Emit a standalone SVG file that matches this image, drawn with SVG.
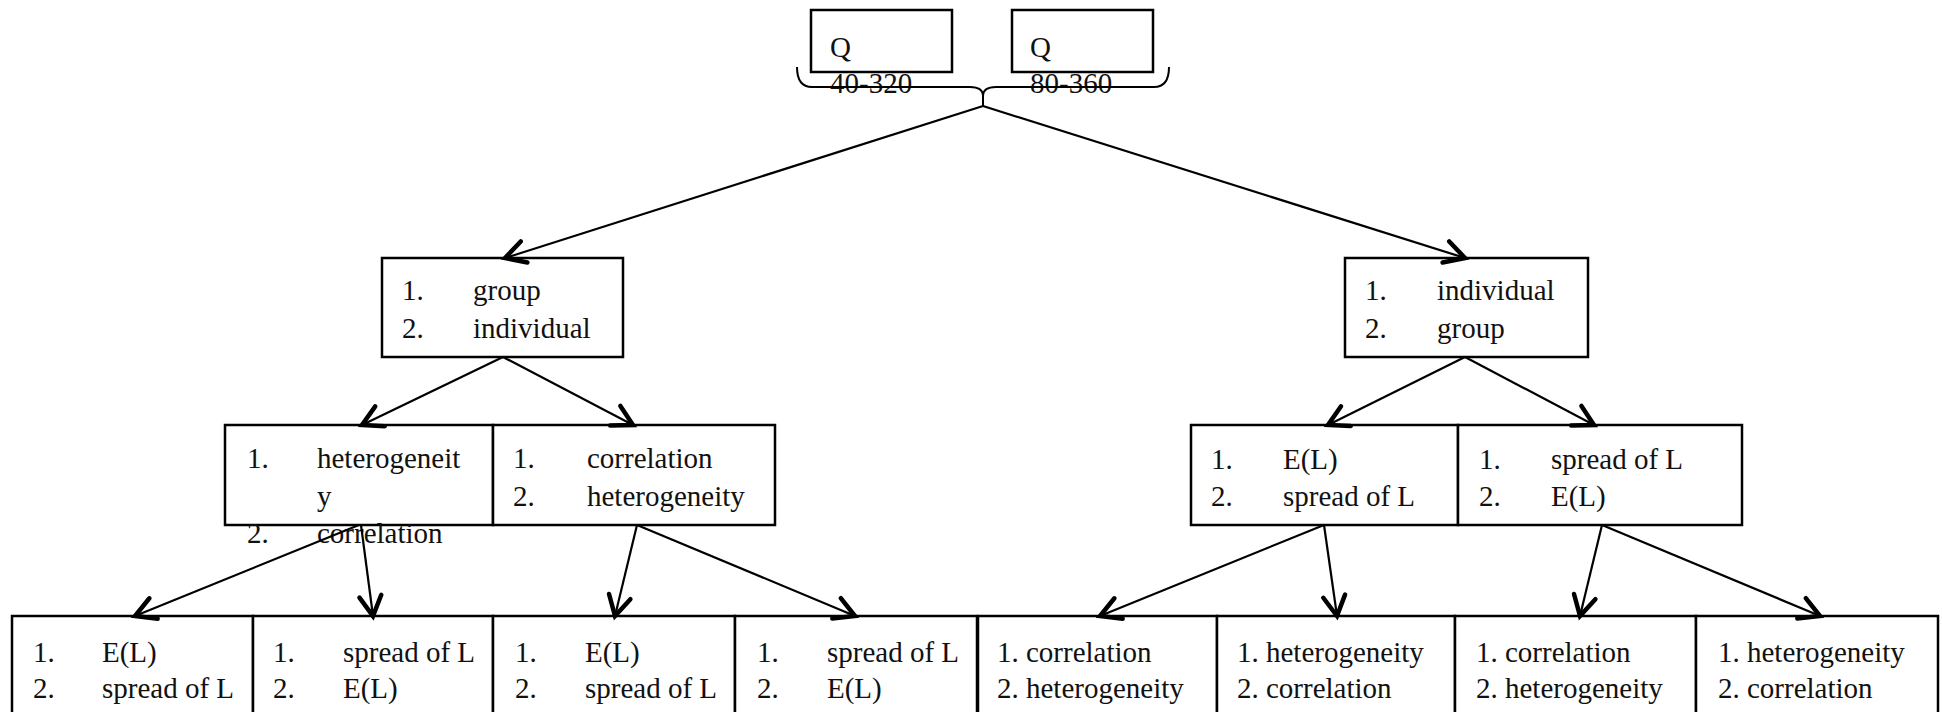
<svg xmlns="http://www.w3.org/2000/svg" width="1942" height="712" viewBox="0 0 1942 712">
<style>
.box{fill:#fff;stroke:#000;stroke-width:2.5}
.t{font-family:"Liberation Serif","Times New Roman",serif;font-size:29px;fill:#111}
.c{stroke:#000;stroke-width:2.2;fill:none}
.br{stroke:#000;stroke-width:2;fill:none}
</style>
<defs>
<marker id="ah" markerUnits="userSpaceOnUse" markerWidth="40" markerHeight="40" viewBox="-30 -20 40 40" refX="0" refY="0" orient="auto">
<path d="M-20,-11 L0,0 L-20,11" fill="none" stroke="#000" stroke-width="4.5" stroke-linecap="round" stroke-linejoin="miter"/>
</marker>
</defs>
<rect width="1942" height="712" fill="#fff"/>

<g id="q1"><rect class="box" x="811" y="10" width="141" height="62"/><text class="t" x="830" y="57">Q</text><text class="t" x="830" y="93">40-320</text></g>
<g id="q2"><rect class="box" x="1012" y="10" width="141" height="62"/><text class="t" x="1030" y="57">Q</text><text class="t" x="1030" y="93">80-360</text></g>
<g id="brace"><path class="br" d="M797,67 Q797,87 812,87 L970,87 Q983,87 983,96 L983,106 M983,96 Q983,87 996,87 L1154,87 Q1169,87 1169,67"/></g>

<g id="n-group"><rect class="box" x="382" y="258" width="241" height="99"/>
<text class="t" x="402" y="300">1.</text><text class="t" x="473" y="300">group</text>
<text class="t" x="402" y="338">2.</text><text class="t" x="473" y="338">individual</text></g>

<g id="n-individual"><rect class="box" x="1345" y="258" width="243" height="99"/>
<text class="t" x="1365" y="300">1.</text><text class="t" x="1437" y="300">individual</text>
<text class="t" x="1365" y="338">2.</text><text class="t" x="1437" y="338">group</text></g>

<g id="n-het-cor"><rect class="box" x="225" y="425" width="268" height="100"/>
<text class="t" x="247" y="468">1.</text><text class="t" x="317" y="468">heterogeneit</text>
<text class="t" x="317" y="506">y</text>
<text class="t" x="247" y="543">2.</text><text class="t" x="317" y="543">correlation</text></g>

<g id="n-cor-het"><rect class="box" x="493" y="425" width="282" height="100"/>
<text class="t" x="513" y="468">1.</text><text class="t" x="587" y="468">correlation</text>
<text class="t" x="513" y="506">2.</text><text class="t" x="587" y="506">heterogeneity</text></g>

<g id="n-el-spread"><rect class="box" x="1191" y="425" width="267" height="100"/>
<text class="t" x="1211" y="469">1.</text><text class="t" x="1283" y="469">E(L)</text>
<text class="t" x="1211" y="506">2.</text><text class="t" x="1283" y="506">spread of L</text></g>

<g id="n-spread-el"><rect class="box" x="1458" y="425" width="284" height="100"/>
<text class="t" x="1479" y="469">1.</text><text class="t" x="1551" y="469">spread of L</text>
<text class="t" x="1479" y="506">2.</text><text class="t" x="1551" y="506">E(L)</text></g>

<g id="b1"><rect class="box" x="12" y="616" width="241" height="110"/>
<text class="t" x="33" y="662">1.</text><text class="t" x="102" y="662">E(L)</text>
<text class="t" x="33" y="698">2.</text><text class="t" x="102" y="698">spread of L</text></g>
<g id="b2"><rect class="box" x="253" y="616" width="240" height="110"/>
<text class="t" x="273" y="662">1.</text><text class="t" x="343" y="662">spread of L</text>
<text class="t" x="273" y="698">2.</text><text class="t" x="343" y="698">E(L)</text></g>
<g id="b3"><rect class="box" x="493" y="616" width="242" height="110"/>
<text class="t" x="515" y="662">1.</text><text class="t" x="585" y="662">E(L)</text>
<text class="t" x="515" y="698">2.</text><text class="t" x="585" y="698">spread of L</text></g>
<g id="b4"><rect class="box" x="735" y="616" width="242" height="110"/>
<text class="t" x="757" y="662">1.</text><text class="t" x="827" y="662">spread of L</text>
<text class="t" x="757" y="698">2.</text><text class="t" x="827" y="698">E(L)</text></g>
<g id="b5"><rect class="box" x="978" y="616" width="239" height="110"/>
<text class="t" x="997" y="662">1. correlation</text>
<text class="t" x="997" y="698">2. heterogeneity</text></g>
<g id="b6"><rect class="box" x="1217" y="616" width="238" height="110"/>
<text class="t" x="1237" y="662">1. heterogeneity</text>
<text class="t" x="1237" y="698">2. correlation</text></g>
<g id="b7"><rect class="box" x="1455" y="616" width="241" height="110"/>
<text class="t" x="1476" y="662">1. correlation</text>
<text class="t" x="1476" y="698">2. heterogeneity</text></g>
<g id="b8"><rect class="box" x="1696" y="616" width="242" height="110"/>
<text class="t" x="1718" y="662">1. heterogeneity</text>
<text class="t" x="1718" y="698">2. correlation</text></g>

<g id="connectors">
<line class="c" x1="983" y1="106" x2="505" y2="258" marker-end="url(#ah)"/>
<line class="c" x1="983" y1="106" x2="1465" y2="258" marker-end="url(#ah)"/>
<line class="c" x1="503" y1="357" x2="362" y2="425" marker-end="url(#ah)"/>
<line class="c" x1="503" y1="357" x2="633" y2="425" marker-end="url(#ah)"/>
<line class="c" x1="1465" y1="357" x2="1328" y2="425" marker-end="url(#ah)"/>
<line class="c" x1="1465" y1="357" x2="1594" y2="425" marker-end="url(#ah)"/>
<line class="c" x1="359" y1="525" x2="135" y2="616" marker-end="url(#ah)"/>
<line class="c" x1="361" y1="525" x2="373" y2="616" marker-end="url(#ah)"/>
<line class="c" x1="637" y1="525" x2="615" y2="616" marker-end="url(#ah)"/>
<line class="c" x1="637" y1="525" x2="855" y2="616" marker-end="url(#ah)"/>
<line class="c" x1="1324" y1="525" x2="1100" y2="616" marker-end="url(#ah)"/>
<line class="c" x1="1324" y1="525" x2="1337" y2="616" marker-end="url(#ah)"/>
<line class="c" x1="1602" y1="525" x2="1580" y2="616" marker-end="url(#ah)"/>
<line class="c" x1="1602" y1="525" x2="1820" y2="616" marker-end="url(#ah)"/>
</g>
</svg>
